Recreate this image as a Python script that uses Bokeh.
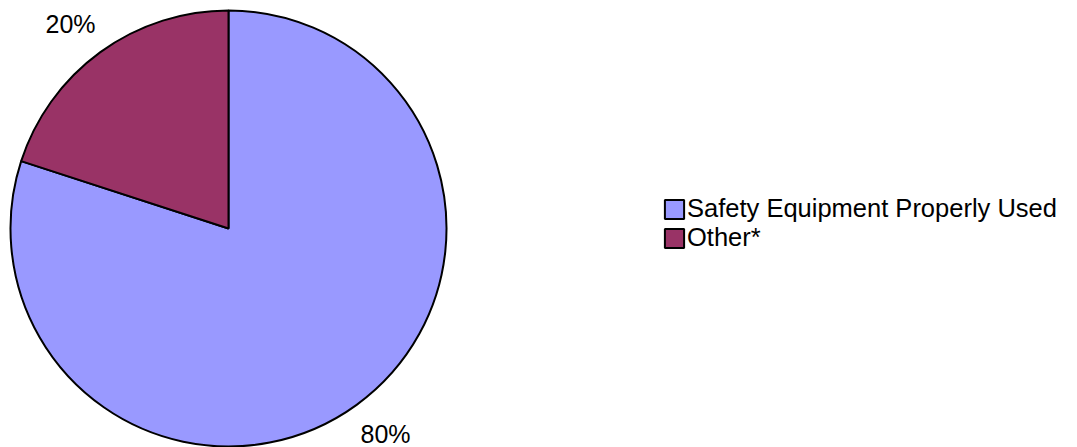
import numpy as np
from bokeh.plotting import figure
from bokeh.models import ColumnDataSource, Range1d, Legend, LegendItem, Label
from bokeh.embed import file_html
from bokeh.resources import INLINE

categories = ["Safety Equipment Properly Used", "Other*"]
values = [80, 20]
colors = ["#9999FF", "#993366"]
labels = ["80%", "20%"]

W, H = 1069, 447
p = figure(width=W, height=H, output_backend="svg", toolbar_location=None,
           x_range=Range1d(0, W), y_range=Range1d(0, H), min_border=0)
p.axis.visible = False
p.grid.visible = False
p.outline_line_color = None
p.background_fill_color = "white"

cx, cy, r = 228, 219, 218
vals = np.array(values, dtype=float)
frac = vals / vals.sum()
# first slice goes clockwise from 12 o'clock
ends = np.pi / 2 - np.concatenate([[0], np.cumsum(frac)[:-1]]) * 2 * np.pi
starts = ends - frac * 2 * np.pi
src = ColumnDataSource(dict(cat=categories, start=starts, end=ends, color=colors))
wr = p.wedge(x=cx, y=cy, radius=r, start_angle="start", end_angle="end",
             fill_color="color", line_color="black", line_width=2, source=src)

legend = Legend(items=[LegendItem(label=c, renderers=[wr], index=i) for i, c in enumerate(categories)],
                location=(662, 195), border_line_color=None, background_fill_alpha=0,
                label_text_font="Liberation Sans", label_text_font_size="25.5px",
                glyph_width=24, glyph_height=24, label_standoff=1, spacing=0,
                label_height=24, padding=0, margin=0, label_text_color="black")
p.add_layout(legend)

p.add_layout(Label(x=70, y=424, text=labels[1], text_align="center", text_baseline="middle",
                   text_font="Liberation Sans", text_font_size="25px", text_color="black"))
p.add_layout(Label(x=385, y=14, text=labels[0], text_align="center", text_baseline="middle",
                   text_font="Liberation Sans", text_font_size="25px", text_color="black"))

open("out.html", "w").write(file_html(p, INLINE))
